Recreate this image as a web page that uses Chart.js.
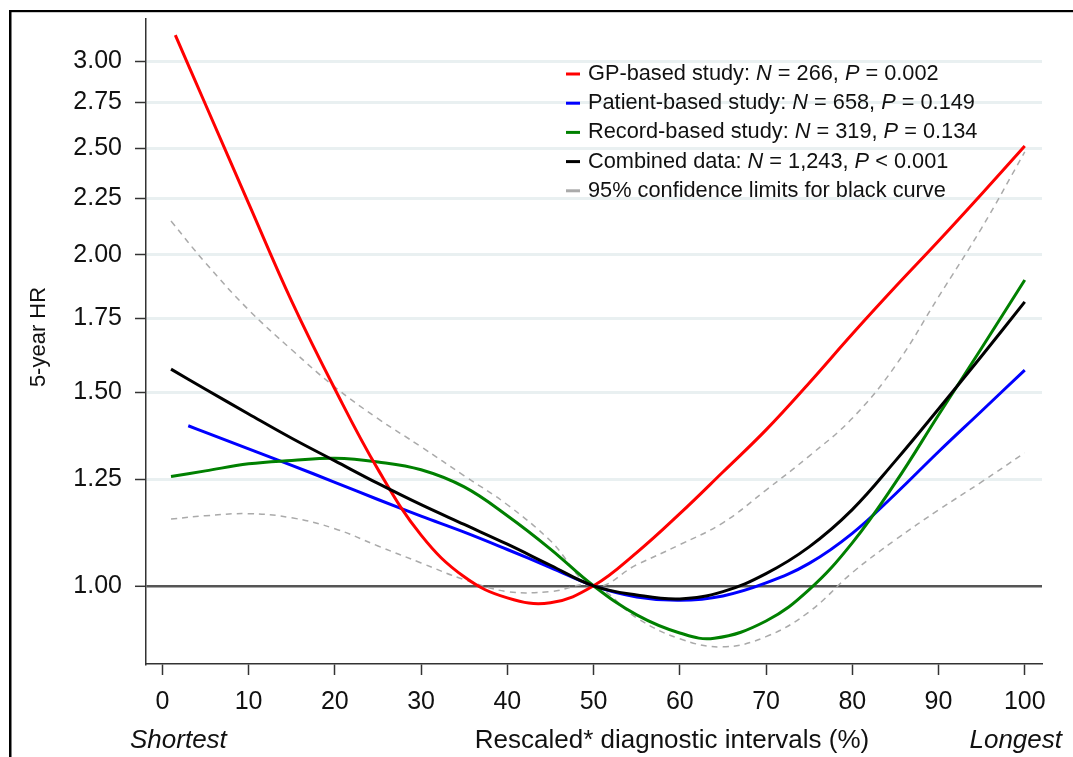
<!DOCTYPE html>
<html>
<head>
<meta charset="utf-8">
<script src="https://cdn.jsdelivr.net/npm/chart.js@4/dist/chart.umd.min.js"></script>
<style>
  html, body { margin: 0; padding: 0; background: #fff; }
  #wrap { position: relative; width: 1073px; height: 757px; }
  canvas { display: block; }
</style>
</head>
<body>
<div id="wrap"><canvas id="c" width="1073" height="757"></canvas></div>
<script>
// ---- Data ----
const xTicks = [0, 10, 20, 30, 40, 50, 60, 70, 80, 90, 100];
const yTicks = [1.00, 1.25, 1.50, 1.75, 2.00, 2.25, 2.50, 2.75, 3.00];

const xGP = [1.5, 5, 10, 15, 20, 25, 30, 35, 40, 45, 50, 55, 60, 65, 70, 75, 80, 85, 90, 95, 100];
const gpHR = [3.167, 2.739, 2.227, 1.814, 1.510, 1.276, 1.112, 1.019, 0.975, 0.965, 1.000, 1.072, 1.163, 1.269, 1.386, 1.529, 1.694, 1.870, 2.058, 2.271, 2.511];

const xPatient = [3, 5, 10, 15, 20, 25, 30, 35, 40, 45, 50, 55, 60, 65, 70, 75, 80, 85, 90, 95, 100];
const patientHR = [1.398, 1.379, 1.332, 1.287, 1.242, 1.198, 1.157, 1.119, 1.079, 1.039, 1.000, 0.977, 0.970, 0.979, 1.006, 1.048, 1.116, 1.212, 1.324, 1.442, 1.571];

const xRecord = [1, 5, 10, 15, 20, 25, 30, 35, 40, 45, 50, 55, 60, 64, 70, 75, 80, 85, 90, 95, 100];
const recordHR = [1.257, 1.272, 1.291, 1.300, 1.306, 1.296, 1.275, 1.230, 1.158, 1.080, 1.000, 0.941, 0.906, 0.896, 0.929, 0.992, 1.094, 1.241, 1.430, 1.645, 1.897];

const xCombined = [1, 5, 10, 15, 20, 25, 30, 35, 40, 45, 50, 55, 60, 65, 70, 75, 80, 85, 90, 95, 100];
const combinedHR = [1.574, 1.509, 1.433, 1.362, 1.299, 1.239, 1.185, 1.137, 1.091, 1.044, 1.000, 0.981, 0.973, 0.988, 1.026, 1.085, 1.173, 1.299, 1.448, 1.618, 1.812];
const upperHR = [2.146, 1.966, 1.782, 1.639, 1.516, 1.419, 1.338, 1.259, 1.185, 1.099, 1.000, 1.045, 1.090, 1.141, 1.222, 1.312, 1.420, 1.585, 1.831, 2.115, 2.480];
const lowerHR = [1.150, 1.158, 1.163, 1.153, 1.127, 1.087, 1.049, 1.013, 0.988, 0.988, 1.000, 0.935, 0.895, 0.880, 0.899, 0.947, 1.028, 1.101, 1.172, 1.243, 1.321];

const legendRows = [
  { color: '#ff0000', parts: [['GP-based study: ', 0], ['N', 1], [' = 266, ', 0], ['P', 1], [' = 0.002', 0]] },
  { color: '#0000ff', parts: [['Patient-based study: ', 0], ['N', 1], [' = 658, ', 0], ['P', 1], [' = 0.149', 0]] },
  { color: '#008000', parts: [['Record-based study: ', 0], ['N', 1], [' = 319, ', 0], ['P', 1], [' = 0.134', 0]] },
  { color: '#000000', parts: [['Combined data: ', 0], ['N', 1], [' = 1,243, ', 0], ['P', 1], [' < 0.001', 0]] },
  { color: '#aaaaaa', parts: [['95% confidence limits for black curve', 0]] }
];

const yTitle = '5-year HR';
const xTitle = 'Rescaled* diagnostic intervals (%)';
const xLeftNote = 'Shortest';
const xRightNote = 'Longest';

// ---- helpers ----
const pts = (xs, ys) => xs.map((x, i) => ({ x: x, y: ys[i] }));
const FONT = '"Liberation Sans", Arial, Helvetica, sans-serif';
const TXT = '#111111';

const solid = (label, xs, ys, color) => ({
  label, data: pts(xs, ys), borderColor: color, backgroundColor: color,
  borderWidth: 3, pointRadius: 0, tension: 0.4, fill: false
});
const dashed = (label, xs, ys) => ({
  label, data: pts(xs, ys), borderColor: '#aaaaaa', backgroundColor: '#aaaaaa',
  borderWidth: 1.5, borderDash: [6, 5], pointRadius: 0, tension: 0.4, fill: false
});

const decorPlugin = {
  id: 'decor',
  beforeDraw(chart) {
    const ctx = chart.ctx;
    ctx.save();
    ctx.fillStyle = '#ffffff';
    ctx.fillRect(0, 0, chart.width, chart.height);
    ctx.fillStyle = '#000000';
    ctx.fillRect(9, 10, 2.5, chart.height - 10);
    ctx.fillRect(9, 10, chart.width - 9, 2.2);
    ctx.restore();
  },
  afterDraw(chart) {
    const ctx = chart.ctx;
    ctx.save();
    ctx.fillStyle = TXT;
    // y title
    ctx.save();
    ctx.translate(39, 337);
    ctx.rotate(-Math.PI / 2);
    ctx.font = '22px ' + FONT;
    ctx.textAlign = 'center';
    ctx.textBaseline = 'middle';
    ctx.fillText(yTitle, 0, 0);
    ctx.restore();
    // x titles
    ctx.textBaseline = 'alphabetic';
    ctx.font = 'italic 26px ' + FONT;
    ctx.textAlign = 'left';
    ctx.fillText(xLeftNote, 130, 748);
    ctx.textAlign = 'right';
    ctx.fillText(xRightNote, 1062, 748);
    ctx.font = '26px ' + FONT;
    ctx.textAlign = 'center';
    ctx.fillText(xTitle, 672, 748);
    // legend
    const x0 = 566, tx = 588, y0 = 74, dy = 29.2;
    legendRows.forEach((row, i) => {
      const y = y0 + i * dy;
      ctx.strokeStyle = row.color;
      ctx.lineWidth = 3;
      ctx.beginPath();
      ctx.moveTo(x0, y);
      ctx.lineTo(x0 + 14, y);
      ctx.stroke();
      let x = tx;
      ctx.textAlign = 'left';
      ctx.textBaseline = 'middle';
      ctx.fillStyle = TXT;
      row.parts.forEach(([s, it]) => {
        ctx.font = (it ? 'italic ' : '') + '21.75px ' + FONT;
        ctx.fillText(s, x, y);
        x += ctx.measureText(s).width;
      });
    });
    ctx.restore();
  }
};

new Chart(document.getElementById('c'), {
  type: 'line',
  data: {
    datasets: [
      solid('Combined data', xCombined, combinedHR, '#000000'),
      solid('GP-based study', xGP, gpHR, '#ff0000'),
      solid('Record-based study', xRecord, recordHR, '#008000'),
      solid('Patient-based study', xPatient, patientHR, '#0000ff'),
      dashed('Upper 95% limit', xCombined, upperHR),
      dashed('Lower 95% limit', xCombined, lowerHR)
    ]
  },
  options: {
    responsive: false,
    animation: false,
    devicePixelRatio: 1,
    layout: { padding: { top: 19, right: 31, left: 0, bottom: 0 } },
    plugins: { legend: { display: false }, tooltip: { enabled: false }, title: { display: false } },
    scales: {
      x: {
        type: 'linear', min: -1.9, max: 102,
        afterFit: s => { s.height = 93; s.paddingLeft = 0; s.paddingRight = 0; },
        afterBuildTicks: s => { s.ticks = xTicks.map(v => ({ value: v })); },
        ticks: { font: { size: 25, family: FONT }, color: TXT, padding: 12, maxRotation: 0, autoSkip: false,
                 callback: v => String(v) },
        grid: { drawOnChartArea: false, drawTicks: true, tickLength: 11, tickColor: '#333333', tickWidth: 1.5 },
        border: { display: true, color: '#333333', width: 1.5 }
      },
      y: {
        type: 'logarithmic', min: 0.849, max: 3.276,
        afterFit: s => { s.width = 146; s.paddingTop = 0; s.paddingBottom = 0; },
        afterBuildTicks: s => { s.ticks = yTicks.map(v => ({ value: v })); },
        ticks: { font: { size: 25, family: FONT }, color: TXT, padding: 13, autoSkip: false,
                 callback: v => Number(v).toFixed(2) },
        grid: {
          drawOnChartArea: true, drawTicks: true, tickLength: 11, tickColor: '#333333', tickWidth: 1.5,
          color: c => (c.tick && Math.abs(c.tick.value - 1) < 1e-9) ? '#555555' : '#e9f0f1',
          lineWidth: c => (c.tick && Math.abs(c.tick.value - 1) < 1e-9) ? 2.6 : 3
        },
        border: { display: true, color: '#333333', width: 1.5 }
      }
    }
  },
  plugins: [decorPlugin]
});
</script>
</body>
</html>
